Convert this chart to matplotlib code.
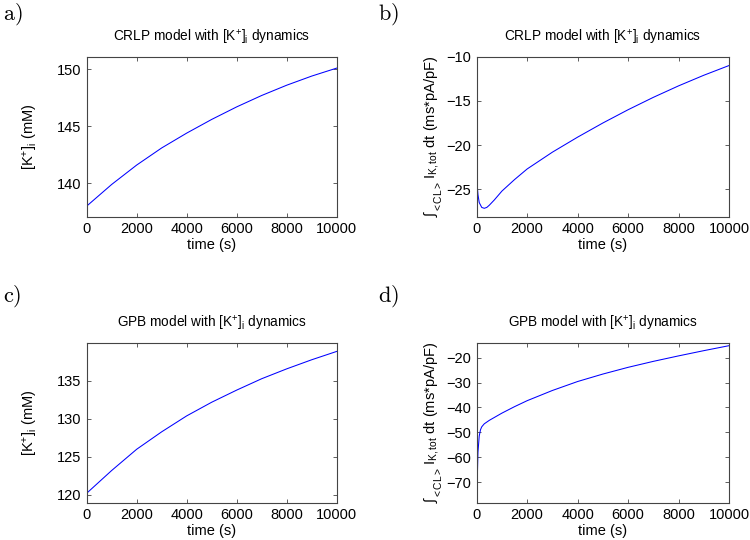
import matplotlib
matplotlib.use("Agg")
import matplotlib.pyplot as plt
import numpy as np

plt.rcParams['font.family'] = ['Liberation Sans', 'DejaVu Sans']
plt.rcParams['mathtext.fontset'] = 'custom'
plt.rcParams['mathtext.rm'] = 'Liberation Sans'
plt.rcParams['mathtext.it'] = 'Liberation Sans'
plt.rcParams['mathtext.bf'] = 'Liberation Sans:bold'

# ---- data ----
t_a = [0, 1000, 2000, 3000, 4000, 5000, 6000, 7000, 8000, 9000, 10000]
k_crlp = [138.0, 139.9, 141.6, 143.1, 144.4, 145.6, 146.7, 147.7, 148.6, 149.4, 150.1]

t_b = [0, 50, 100, 200, 300, 400, 500, 700, 1000, 1500, 2000, 3000, 4000, 5000,
       6000, 7000, 8000, 9000, 10000]
int_crlp = [-23.8, -25.6, -26.5, -27.05, -27.15, -27.05, -26.8, -26.2, -25.2,
            -23.9, -22.7, -20.8, -19.1, -17.5, -16.0, -14.6, -13.3, -12.1, -11.0]

t_c = [0, 1000, 2000, 3000, 4000, 5000, 6000, 7000, 8000, 9000, 10000]
k_gpb = [120.2, 123.2, 126.0, 128.3, 130.4, 132.2, 133.8, 135.3, 136.6, 137.8, 138.9]

t_d = [0, 20, 50, 100, 150, 200, 300, 500, 1000, 1500, 2000, 3000, 4000, 5000,
       6000, 7000, 8000, 9000, 10000]
int_gpb = [-78.2, -70.0, -58.0, -51.5, -49.0, -47.8, -46.6, -45.2, -42.3, -39.7,
           -37.3, -33.2, -29.6, -26.6, -23.9, -21.5, -19.3, -17.2, -15.2]

xticks = [0, 2000, 4000, 6000, 8000, 10000]
titles = [r'CRLP model with [K$^{+}$]$_{\mathrm{i}}$ dynamics',
          r'CRLP model with [K$^{+}$]$_{\mathrm{i}}$ dynamics',
          r'GPB model with [K$^{+}$]$_{\mathrm{i}}$ dynamics',
          r'GPB model with [K$^{+}$]$_{\mathrm{i}}$ dynamics']
ylab_k = r'[K$^{+}$]$_{\mathrm{i}}$ (mM)'
ylab_int = r'$\int_{<CL>}\,\mathrm{I}_{\mathrm{K,tot}}$ dt (ms*pA/pF)'
panel_labels = ['a)', 'b)', 'c)', 'd)']

fig = plt.figure(figsize=(7.5, 5.4), dpi=100)
W, H = 750.0, 540.0

def axes_px(l, r, top, bot):
    return fig.add_axes([l / W, 1 - bot / H, (r - l) / W, (bot - top) / H])

axs = [axes_px(86.7, 336.7, 56.7, 216.7),
       axes_px(476.7, 729.0, 56.7, 216.7),
       axes_px(86.7, 336.7, 342.7, 502.7),
       axes_px(476.7, 729.0, 342.7, 502.7)]

series = [(t_a, k_crlp, (137.07, 151.1), [140, 145, 150], ylab_k, 12),
          (t_b, int_crlp, (-28.1, -10), [-25, -20, -15, -10], ylab_int, 1),
          (t_c, k_gpb, (118.95, 140.05), [120, 125, 130, 135], ylab_k, 12),
          (t_d, int_gpb, (-78.3, -14.0), [-70, -60, -50, -40, -30, -20], ylab_int, 1)]

for ax, (t, y, ylim, yt, yl, lp), ttl in zip(axs, series, titles):
    ax.plot(t, y, color='#0000ff', lw=0.75)
    ax.set_xlim(0, 10000)
    ax.set_ylim(*ylim)
    ax.set_xticks(xticks)
    ax.set_yticks(yt)
    ax.tick_params(direction='in', top=True, right=True, length=3,
                   width=0.6, color='#444444', labelsize=10.5, pad=4)
    for s in ax.spines.values():
        s.set_color('#444444')
        s.set_linewidth(0.8)
    ax.set_title(ttl, fontsize=9.8, pad=11)
    ax.set_xlabel('time (s)', fontsize=10.5, labelpad=1)
    ax.set_ylabel(yl, fontsize=10.5, labelpad=lp)

label_pos = [(3, 14), (378, 14), (3, 296), (378, 296)]
for lab, (x, y) in zip(panel_labels, label_pos):
    fig.text(x / W, 1 - y / H, r'$\mathrm{' + lab + '}$', fontsize=16,
             math_fontfamily='cm', ha='left', va='center')

fig.savefig('out.png', dpi=100)
